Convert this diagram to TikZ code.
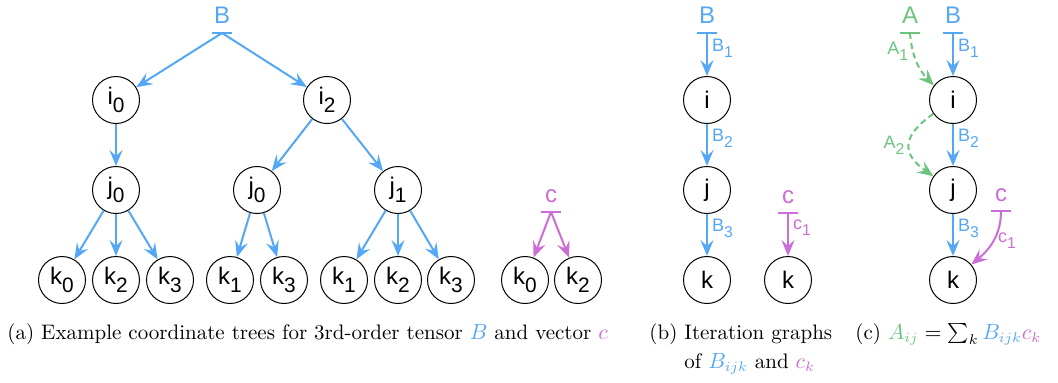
\documentclass[tikz,border=0pt]{standalone}
\usepackage{fontspec}
\setsansfont{Liberation Sans}
\usetikzlibrary{arrows.meta}

\definecolor{tensB}{RGB}{84,167,245}
\definecolor{vecC}{RGB}{204,108,214}
\definecolor{matA}{RGB}{108,196,126}
\newcommand\lsub[1]{\raisebox{-0.33em}{\scalebox{0.87}{#1}}}

\begin{document}
\begin{tikzpicture}
[
x=0.5pt,y=-0.5pt,
vertex/.style={draw,circle,minimum size=23.5pt,inner sep=0pt,line width=0.5pt,font=\sffamily\fontsize{12}{14}\selectfont},
root/.style={text=#1,anchor=south,inner xsep=0pt,inner ysep=4.5pt,minimum width=9.5pt,
            font=\sffamily\fontsize{12}{14}\selectfont,
            append after command={(\tikzlastnode.south west) edge[draw=#1,line width=1pt] (\tikzlastnode.south east)}},
flow/.style={draw=#1,line width=1pt,-{Stealth[length=8pt,width=6.5pt,inset=3pt]}},
elabel/.style={text=#1,font=\sffamily\fontsize{9}{10}\selectfont,inner sep=2pt},
caption/.style={anchor=base west,font=\fontsize{10.5}{14.5}\selectfont,inner sep=0pt},
]
\useasboundingbox (0,0) rectangle (1058,382);

%Place the nodes
%(a) coordinate trees
\node[root=tensB] (Ba) at (222,33) {B};
\node[vertex] (i0) at (116,100) {i\lsub{0}};
\node[vertex] (i2) at (327,100) {i\lsub{2}};
\node[vertex] (j0) at (116,190) {j\lsub{0}};
\node[vertex] (j0b) at (257,190) {j\lsub{0}};
\node[vertex] (j1) at (398,190) {j\lsub{1}};
\foreach \n/\x/\s in {k0a/62/0,k2a/116/2,k3a/170/3,k1b/230/1,k3b/284/3,k1c/344/1,k2c/398/2,k3c/451/3,k0d/525/0,k2d/578/2}
            \node[vertex] (\n) at (\x,280) {k\lsub{\s}};
\node[root=vecC] (ca) at (551,212) {c};

%(b) iteration graphs
\node[root=tensB] (Bb) at (707,33) {B};
\node[vertex] (ib) at (707,100) {i};
\node[vertex] (jb) at (707,190) {j};
\node[vertex] (kb) at (707,280) {k};
\node[root=vecC] (cb) at (788,213) {c};
\node[vertex] (kcb) at (788,280) {k};

%(c) merged graph
\node[root=matA] (Ac) at (910,33) {A};
\node[root=tensB] (Bc) at (953,33) {B};
\node[vertex] (ic) at (953,100) {i};
\node[vertex] (jc) at (953,190) {j};
\node[vertex] (kc) at (953,280) {k};
\node[root=vecC] (cc) at (1001,211) {c};

%Draw the connections
\draw[flow=tensB] (Ba.south) -- (i0);
\draw[flow=tensB] (Ba.south) -- (i2);
\draw[flow=tensB] (i0) -- (j0);
\draw[flow=tensB] (i2) -- (j0b);
\draw[flow=tensB] (i2) -- (j1);
\foreach \a/\b in {j0/k0a,j0/k2a,j0/k3a,j0b/k1b,j0b/k3b,j1/k1c,j1/k2c,j1/k3c}
            \draw[flow=tensB] (\a) -- (\b);
\draw[flow=vecC] (ca.south) -- (k0d);
\draw[flow=vecC] (ca.south) -- (k2d);

\draw[flow=tensB] (Bb.south) -- node[elabel=tensB,right,pos=0.35] {B\lsub{1}} (ib);
\draw[flow=tensB] (ib) -- node[elabel=tensB,right,pos=0.35] {B\lsub{2}} (jb);
\draw[flow=tensB] (jb) -- node[elabel=tensB,right,pos=0.35] {B\lsub{3}} (kb);
\draw[flow=vecC] (cb.south) -- node[elabel=vecC,right,pos=0.35] {c\lsub{1}} (kcb);

\draw[flow=matA,dashed,dash pattern=on 3pt off 2pt] (Ac.south) to[bend right=20] node[elabel=matA,left,pos=0.3] {A\lsub{1}} (ic);
\draw[flow=tensB] (Bc.south) -- node[elabel=tensB,right,pos=0.35] {B\lsub{1}} (ic);
\draw[flow=matA,dashed,dash pattern=on 3pt off 2pt] (ic) to[out=215,in=145,looseness=1.6] node[elabel=matA,left] {A\lsub{2}} (jc);
\draw[flow=tensB] (ic) -- node[elabel=tensB,right,pos=0.35] {B\lsub{2}} (jc);
\draw[flow=tensB] (jc) -- node[elabel=tensB,right,pos=0.35] {B\lsub{3}} (kc);
\draw[flow=vecC] (cc.south) to[out=-90,in=40] node[elabel=vecC,right] {c\lsub{1}} (kc);

%Captions
\node[caption] (capa) at (7,339) {(a) Example coordinate trees for 3rd-order tensor $\textcolor{tensB}{B}$ and vector $\textcolor{vecC}{c}$};
\node[caption] (capb) at (649,339) {(b) \begin{tabular}[t]{@{}l@{}}Iteration graphs\\of $\textcolor{tensB}{B_{ijk}}$ and $\textcolor{vecC}{c_k}$\end{tabular}};
\node[caption] (capc) at (855,339) {(c) $\textcolor{matA}{A_{ij}}=\sum_k\textcolor{tensB}{B_{ijk}}\textcolor{vecC}{c_k}$};
\end{tikzpicture}
\end{document}
